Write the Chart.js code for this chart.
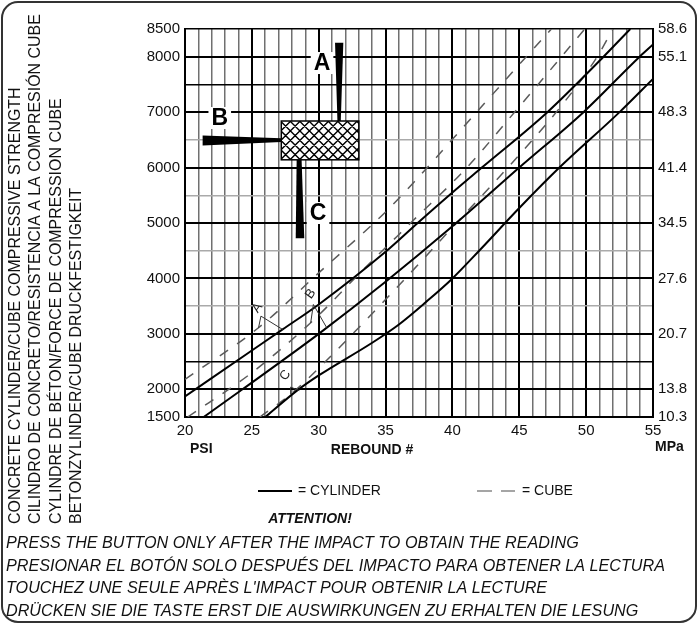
<!DOCTYPE html>
<html>
<head>
<meta charset="utf-8">
<script src="https://cdn.jsdelivr.net/npm/chart.js@4.4.0/dist/chart.umd.min.js"></script>
<style>
html,body{margin:0;padding:0;background:#fff;}
canvas{display:block;}
</style>
</head>
<body>
<canvas id="chart" width="698" height="624"></canvas>
<script>
// rebound number (x) vs compressive strength in psi (y)
const cylAx = [20, 25, 27.3, 30, 35, 37.4, 40, 42.2, 47.1, 51.3, 53.3]
const cylAy = [1870, 2700, 3080, 3530, 4480, 5000, 5550, 6000, 7000, 8000, 8500]
const cylBx = [21.4, 24.3, 30, 35, 40, 45, 49.8, 54, 55]
const cylBy = [1500, 2000, 3000, 3940, 4940, 6000, 7000, 8000, 8220]
const cylCx = [26, 28.4, 30, 34, 36, 38, 40, 42, 45, 48, 52.5, 55]
const cylCy = [1500, 1980, 2250, 2840, 3170, 3570, 4000, 4500, 5270, 6000, 7000, 7600]
const cubeAx = [20, 25.5, 30, 35, 37.25, 40, 45, 47.4]
const cubeAy = [2180, 3110, 4100, 5200, 5770, 6510, 7860, 8500]
const cubeBx = [20.2, 25, 29.4, 33.3, 37, 41, 45, 49.9]
const cubeBy = [1500, 2300, 3200, 4150, 5030, 5980, 7100, 8500]
const cubeCx = [25.6, 27.9, 30, 35, 40, 45, 48.3, 50.8, 52]
const cubeCy = [1500, 1910, 2380, 3620, 4920, 6230, 7160, 7990, 8500]

const xLabels = [20, 25, 30, 35, 40, 45, 50, 55]
const psiLabels = [1500, 2000, 3000, 4000, 5000, 6000, 7000, 8000, 8500]
const mpaLabels = ['10.3', '13.8', '20.7', '27.6', '34.5', '41.4', '48.3', '55.1', '58.6']

const sideText = [
  'CONCRETE CYLINDER/CUBE COMPRESSIVE STRENGTH',
  'CILINDRO DE CONCRETO/RESISTENCIA A LA COMPRESIÓN CUBE',
  'CYLINDRE DE BÉTON/FORCE DE COMPRESSION CUBE',
  'BETONZYLINDER/CUBE DRUCKFESTIGKEIT'
]
const noteText = [
  'PRESS THE BUTTON ONLY AFTER THE IMPACT TO OBTAIN THE READING',
  'PRESIONAR EL BOTÓN SOLO DESPUÉS DEL IMPACTO PARA OBTENER LA LECTURA',
  'TOUCHEZ UNE SEULE APRÈS L\'IMPACT POUR OBTENIR LA LECTURE',
  'DRÜCKEN SIE DIE TASTE ERST DIE AUSWIRKUNGEN ZU ERHALTEN DIE LESUNG'
]

const FONT = '"Liberation Sans", Arial, sans-serif'

function pts(xs, ys){
  return xs.map((x, i) => ({x: x, y: ys[i]}))
}

function curve(xs, ys, dashed){
  return {
    data: pts(xs, ys),
    borderColor: dashed ? '#5a5a5a' : '#000',
    borderWidth: dashed ? 1.5 : 2,
    borderDash: dashed ? [10, 11] : [],
    pointRadius: 0,
    fill: false,
    cubicInterpolationMode: 'monotone'
  }
}

// little A/B/C pointers next to the curves (letter, letter pos, fork pos, dashed target, solid target)
const pointers = [
  ['A', [25.42, 3470], [25.68, 3320], [25.5, 3110], [27.3, 3080]],
  ['B', [29.4, 3720], [29.6, 3530], [29.4, 3200], [30.6, 3110]],
  ['C', [27.5, 2250], [27.9, 2040], [27.9, 1910], [28.55, 1975]]
]

const decor = {
  id: 'decor',
  afterDatasetsDraw(chart){
    const c = chart.ctx
    const X = v => chart.scales.x.getPixelForValue(v)
    const Y = v => chart.scales.y.getPixelForValue(v)

    // pointers
    c.save()
    c.strokeStyle = '#333'
    c.lineWidth = 1
    c.fillStyle = '#222'
    c.font = '13px ' + FONT
    c.textAlign = 'center'
    c.textBaseline = 'middle'
    pointers.forEach(p => {
      c.beginPath()
      c.moveTo(X(p[2][0]), Y(p[2][1])); c.lineTo(X(p[3][0]), Y(p[3][1]))
      c.moveTo(X(p[2][0]), Y(p[2][1])); c.lineTo(X(p[4][0]), Y(p[4][1]))
      c.stroke()
      c.save()
      c.translate(X(p[1][0]), Y(p[1][1]))
      c.rotate(-0.95)
      c.fillText(p[0], 0, 0)
      c.restore()
    })
    c.restore()

    // impact direction sketch
    const poly = (arr) => {
      c.beginPath()
      arr.forEach((q, i) => i ? c.lineTo(X(q[0]), Y(q[1])) : c.moveTo(X(q[0]), Y(q[1])))
      c.closePath(); c.fill()
    }
    c.save()
    c.fillStyle = '#000'
    poly([[31.22, 8250], [31.84, 8250], [31.65, 6840], [31.4, 6840]])
    poly([[21.32, 6580], [27.2, 6530], [27.2, 6460], [21.32, 6400]])
    poly([[28.35, 6140], [28.72, 6140], [28.92, 4724], [28.28, 4724]])

    const rx = X(27.2), ry = Y(6840), rw = X(33.0) - rx, rh = Y(6140) - ry
    c.fillStyle = '#fff'
    c.fillRect(rx, ry, rw, rh)
    c.save()
    c.beginPath(); c.rect(rx, ry, rw, rh); c.clip()
    c.strokeStyle = '#000'; c.lineWidth = 1.4
    c.beginPath()
    for (let d = -rh; d < rw + rh; d += 9.5){
      c.moveTo(rx + d, ry); c.lineTo(rx + d + rh, ry + rh)
      c.moveTo(rx + d + rh, ry); c.lineTo(rx + d, ry + rh)
    }
    c.stroke()
    c.restore()
    c.strokeStyle = '#000'; c.lineWidth = 1.5
    c.strokeRect(rx, ry, rw, rh)

    c.font = 'bold 23px ' + FONT
    c.textAlign = 'center'
    c.textBaseline = 'middle'
    ;[['A', 30.25, 7886], ['B', 22.6, 6894], ['C', 29.95, 5180]].forEach(l => {
      const w = c.measureText(l[0]).width + 6
      c.fillStyle = '#fff'
      c.fillRect(X(l[1]) - w / 2, Y(l[2]) - 11, w, 22)
      c.fillStyle = '#000'
      c.fillText(l[0], X(l[1]), Y(l[2]) + 1)
    })
    c.restore()
  },
  afterDraw(chart){
    const c = chart.ctx
    c.save()
    c.fillStyle = '#111'
    c.textBaseline = 'middle'

    // rotated side titles
    c.font = '14px ' + FONT
    const sz = 14 * 510 / c.measureText(sideText[1]).width
    c.font = sz.toFixed(2) + 'px ' + FONT
    ;[16, 36, 57, 77].forEach((cx, i) => {
      c.save()
      c.translate(cx, 524)
      c.rotate(-Math.PI / 2)
      c.textAlign = 'left'
      c.fillText(sideText[i], 0, 0)
      c.restore()
    })

    c.font = 'bold 14px ' + FONT
    c.textAlign = 'left'
    c.fillText('PSI', 190, 449)
    c.fillText('MPa', 655, 447)
    c.textAlign = 'center'
    c.fillText('REBOUND #', 372, 450)

    // legend
    c.strokeStyle = '#000'; c.lineWidth = 2
    c.beginPath(); c.moveTo(258, 491); c.lineTo(292, 491); c.stroke()
    c.strokeStyle = '#888'; c.lineWidth = 1.5
    c.beginPath(); c.moveTo(477, 491); c.lineTo(492, 491); c.moveTo(501, 491); c.lineTo(515, 491); c.stroke()
    c.font = '14px ' + FONT
    c.textAlign = 'left'
    c.fillText('= CYLINDER', 298, 491)
    c.fillText('= CUBE', 522, 491)

    c.font = 'italic bold 14px ' + FONT
    c.textAlign = 'center'
    c.fillText('ATTENTION!', 310, 519)

    c.font = 'italic 14px ' + FONT
    const nz = 14 * 659 / c.measureText(noteText[1]).width
    c.font = 'italic ' + nz.toFixed(2) + 'px ' + FONT
    c.textAlign = 'left'
    ;[543, 566, 588, 611].forEach((y, i) => c.fillText(noteText[i], 6, y))

    // card outline
    c.strokeStyle = '#333'; c.lineWidth = 2
    c.beginPath(); c.roundRect(2, 2, 694, 620, 16); c.stroke()
    c.restore()
  }
}

const xGrid = []
for (let v = 20; v <= 55; v++) xGrid.push(v)
const yGrid = []
for (let v = 1500; v <= 8500; v += 500) yGrid.push(v)
const darkY = [2000, 2500, 3000, 4000, 5000, 6000, 7000, 7500, 8000, 8500]

new Chart(document.getElementById('chart'), {
  type: 'line',
  data: {
    datasets: [
      curve(cylAx, cylAy, false),
      curve(cylBx, cylBy, false),
      curve(cylCx, cylCy, false),
      curve(cubeAx, cubeAy, true),
      curve(cubeBx, cubeBy, true),
      curve(cubeCx, cubeCy, true)
    ]
  },
  options: {
    responsive: false,
    animation: false,
    layout: {padding: {left: 0, right: 0, top: 29, bottom: 177}},
    plugins: {legend: {display: false}, tooltip: {enabled: false}},
    scales: {
      x: {
        type: 'linear', min: 20, max: 55,
        afterBuildTicks: s => { s.ticks = xGrid.map(v => ({value: v})) },
        afterFit: s => { s.height = 30 },
        grid: {
          drawTicks: false,
          color: ctx => ctx.tick.value % 5 === 0 ? '#000' : '#707070',
          lineWidth: ctx => ctx.tick.value % 5 === 0 ? 2 : 1.5
        },
        border: {color: '#000', width: 2},
        ticks: {
          padding: 5, color: '#111', font: {family: FONT, size: 15},
          maxRotation: 0, autoSkip: false,
          callback: v => xLabels.includes(v) ? String(v) : ''
        }
      },
      y: {
        min: 1500, max: 8500, position: 'left',
        afterBuildTicks: s => { s.ticks = yGrid.map(v => ({value: v})) },
        afterFit: s => { s.width = 185 },
        grid: {
          drawTicks: false,
          color: ctx => darkY.includes(ctx.tick.value) ? '#000' : '#aaa',
          lineWidth: ctx => ctx.tick.value % 1000 === 0 ? 2 : 1.5
        },
        border: {color: '#000', width: 2},
        ticks: {
          padding: 5, color: '#111', font: {family: FONT, size: 15}, autoSkip: false,
          callback: v => psiLabels.includes(v) ? String(v) : ''
        }
      },
      y2: {
        min: 1500, max: 8500, position: 'right',
        afterBuildTicks: s => { s.ticks = yGrid.map(v => ({value: v})) },
        afterFit: s => { s.width = 45 },
        grid: {display: false, drawTicks: false},
        border: {color: '#000', width: 2},
        ticks: {
          padding: 5, color: '#111', font: {family: FONT, size: 15}, autoSkip: false,
          callback: v => { const i = psiLabels.indexOf(v); return i >= 0 ? mpaLabels[i] : '' }
        }
      }
    }
  },
  plugins: [decor]
})
</script>
</body>
</html>
